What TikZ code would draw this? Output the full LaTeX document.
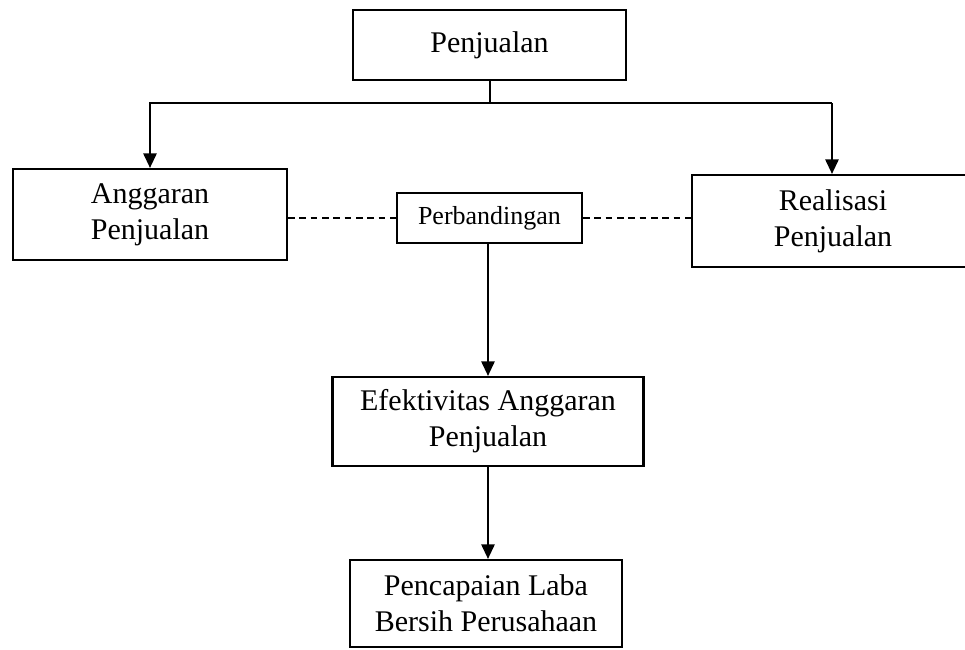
\documentclass[tikz,border=0pt]{standalone}
\usepackage{fontspec}
\setmainfont{Liberation Serif}
\usetikzlibrary{arrows.meta}
\tikzset{
  box/.style={draw, line width=1.6pt, rectangle, align=center, inner sep=0pt,
    font=\fontsize{22.5}{27}\selectfont},
  smallbox/.style={box, font=\fontsize{19.5}{23}\selectfont},
  arr/.style={line width=1.5pt, -{Triangle[length=11pt,width=10pt]}},
  plain/.style={line width=1.5pt},
  dash line/.style={line width=1.2pt, dash pattern=on 5pt off 3.5pt}
}
\begin{document}
\begin{tikzpicture}[x=0.75pt,y=-0.75pt]
\useasboundingbox (0,0) rectangle (965,650);
\node[box, minimum width=204.75pt, minimum height=52.5pt] (pen) at (489.5,45) {Penjualan};
\node[box, minimum width=205.5pt, minimum height=68.25pt] (ang) at (150,214.5) {Anggaran\\Penjualan};
\node[box, minimum width=211.5pt, minimum height=69pt] (real) at (833,221) {Realisasi\\Penjualan};
\node[smallbox, minimum width=138.75pt, minimum height=37.5pt] (perb) at (489.5,218) {Perbandingan};
\node[box, minimum width=233.25pt, minimum height=66.75pt] (efek) at (488,421.5) {Efektivitas Anggaran\\Penjualan};
\node[box, minimum width=204pt, minimum height=65.25pt] (capai) at (486,603.5) {Pencapaian Laba\\Bersih Perusahaan};
\coordinate (j) at (489.5,103);
\coordinate (jr) at (832,103);
\draw[plain] (pen.south) -- (j);
\draw[arr] (j) -| (ang.north);
\draw[plain] (j) -- (jr);
\draw[arr] (jr) -- (jr |- real.north);
\draw[dash line] (ang.east |- perb.west) -- (perb.west);
\draw[dash line] (perb.east) -- (real.west |- perb.east);
\draw[arr] (perb.south -| efek.north) -- (efek.north);
\draw[arr] (efek.south) -- (efek.south |- capai.north);
\end{tikzpicture}
\end{document}
